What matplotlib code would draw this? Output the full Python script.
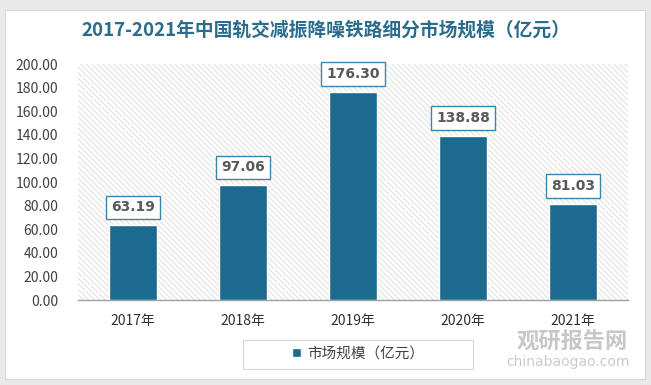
import matplotlib
matplotlib.use("Agg")
import matplotlib.pyplot as plt
from matplotlib.patches import Rectangle

plt.rcParams['font.family'] = ['Noto Sans CJK SC', 'DejaVu Sans']
plt.rcParams['hatch.linewidth'] = 0.6

categories = ['2017年', '2018年', '2019年', '2020年', '2021年']
values = [63.19, 97.06, 176.30, 138.88, 81.03]
yticks = [0, 20, 40, 60, 80, 100, 120, 140, 160, 180, 200]
title = '2017-2021年中国轨交减振降噪铁路细分市场规模（亿元）'
series_name = '市场规模（亿元）'

W, H = 651, 385
fig = plt.figure(figsize=(W/100, H/100), dpi=100)
fig.patch.set_facecolor('#e9e9e9')
fig.add_artist(Rectangle((5/W, 6/H), 1-11/W, 1-16/H, transform=fig.transFigure,
                         facecolor='white', edgecolor='#d6d6d6', lw=0.8, zorder=0))

ax = fig.add_axes([78/W, 1-300/H, (628-78)/W, (300-64)/H])
ax.set_facecolor('none')
ax.add_patch(Rectangle((0, 0), 1, 1, transform=ax.transAxes, facecolor='white',
                       edgecolor='#d9d9d9', lw=0, hatch='\\\\\\\\\\\\', zorder=0))
x = range(len(categories))
bars = ax.bar(x, values, width=0.43, color='#1c6b8e', edgecolor='white', lw=1.0,
              zorder=3, label=series_name)
ax.set_xlim(-0.5, len(categories)-0.5)
ax.set_ylim(0, 200)
ax.set_yticks(yticks)
ax.set_yticklabels([f'{v:.2f}' for v in yticks], fontsize=10, color='#404040')
ax.set_xticks(list(x))
ax.set_xticklabels(categories, fontsize=10, color='#303030')
ax.tick_params(axis='both', length=0)
ax.tick_params(axis='y', pad=14)
ax.tick_params(axis='x', pad=10)
for s in ['top', 'right', 'left']:
    ax.spines[s].set_visible(False)
ax.spines['bottom'].set_color('#a0a0a0')
ax.spines['bottom'].set_linewidth(1.0)

for xi, v in zip(x, values):
    ax.annotate(f'{v:.2f}', (xi, v), xytext=(0, 13), textcoords='offset points',
                ha='center', va='center', fontsize=10, fontweight='bold', color='#595959',
                family='DejaVu Sans',
                bbox=dict(boxstyle='square,pad=0.35', fc='white', ec='#3a86a8', lw=1.0),
                zorder=5)

fig.text(0.5, 1-30/H, title, ha='center', va='center', fontsize=13.5,
         fontweight='bold', color='#2b6c8c')

# legend box
fig.add_artist(Rectangle((243/W, 1-369/H), 230/W, 29/H, transform=fig.transFigure,
                         facecolor='white', edgecolor='#d6d6d6', lw=0.8, zorder=1))
leg = fig.legend(handles=[bars], labels=[series_name], loc='center',
                 bbox_to_anchor=(358/W, 1-354/H), frameon=False,
                 fontsize=10.5, handlelength=0.6, handleheight=0.6, borderpad=0.3,
                 handletextpad=0.4)
leg.set_zorder(2)
for t in leg.get_texts():
    t.set_color('#404040')

# watermark
fig.text(572/W, 1-342/H, '观研报告网', ha='center', va='center', fontsize=16,
         fontweight='bold', color='#9a9a9a', alpha=0.55)
fig.text(568/W, 1-362/H, 'chinabaogao.com', ha='center', va='center', fontsize=10,
         color='#a0a0a0', alpha=0.55, family='DejaVu Sans')

fig.savefig('out.png', dpi=100)
